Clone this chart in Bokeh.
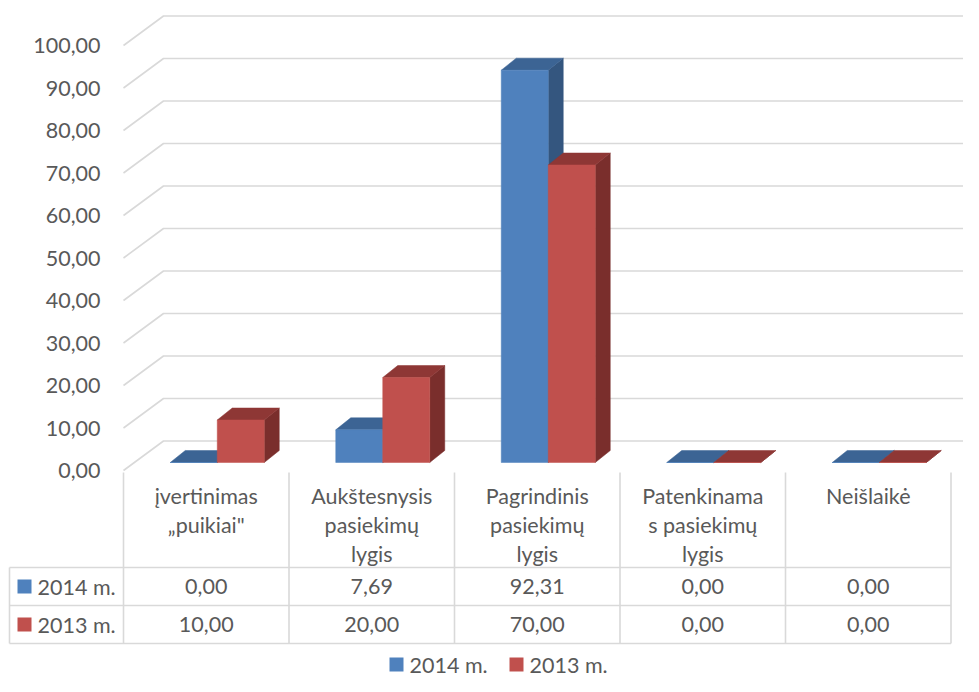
from bokeh.plotting import figure
from bokeh.models import Range1d
from bokeh.embed import file_html
from bokeh.resources import INLINE
from bokeh.core.properties import value

# ---------------- data ----------------
categories = [
    "įvertinimas\n„puikiai\"",
    "Aukštesnysis\npasiekimų\nlygis",
    "Pagrindinis\npasiekimų\nlygis",
    "Patenkinama\ns pasiekimų\nlygis",
    "Neišlaikė",
]
series_names = ["2014 m.", "2013 m."]
values_2014 = [0.00, 7.69, 92.31, 0.00, 0.00]
values_2013 = [10.00, 20.00, 70.00, 0.00, 0.00]
y_ticks = [0, 10, 20, 30, 40, 50, 60, 70, 80, 90, 100]

# ---------------- style / layout ----------------
FRONT = ["#4F81BD", "#C0504D"]
TOP = ["#3C6494", "#8E3735"]
SIDE = ["#34567F", "#7A2E2C"]
GRID = "#D9D9D9"
TXT = "#595959"
FONT = "Lato"
FS = "21.5px"

W, H = 963, 676
OX, OY = 0, 0              # pixel offset of the canvas
PX = 165.5                 # pixels per category
PY = 4.25                  # pixels per value unit
X0, Y0 = 123.0, 470.0      # pixel of (0, 0)


def dx(X):  # pixel X -> data x
    return (X - X0) / PX


def dy(Y):  # pixel Y -> data y
    return (Y0 - Y) / PY


p = figure(width=W, height=H, output_backend="svg", toolbar_location=None,
           x_range=Range1d(dx(OX), dx(OX + W)), y_range=Range1d(dy(OY + H), dy(OY)),
           min_border=0, min_border_left=0, min_border_right=0,
           min_border_top=0, min_border_bottom=0)
p.axis.visible = False
p.grid.visible = False
p.outline_line_color = None
p.background_fill_color = "white"
p.border_fill_color = "white"

# ---------- wall gridlines (3D) ----------
DXW = 40 / PX
DYW = 29.5 / PY
x_end = dx(OX + W) + 0.1
p.multi_line(xs=[[0, DXW, x_end] for _ in y_ticks],
             ys=[[t, t + DYW, t + DYW] for t in y_ticks],
             line_color=GRID, line_width=1.6)

# y tick labels
p.text(x=[dx(100)] * len(y_ticks), y=y_ticks,
       text=[f"{t:.2f}".replace(".", ",") for t in y_ticks],
       text_align="right", text_baseline="middle", text_color=TXT,
       text_font=value(FONT), text_font_size=FS)

# ---------- 3D bars ----------
bw = 47 / PX
fx0 = 11 / PX
fy0 = 8 / PY
ddx = 15 / PX
ddy = 12 / PY

for s, vals in enumerate([values_2014, values_2013]):
    fxs, fys, txs, tys, sxs, sys_ = [], [], [], [], [], []
    for i, v in enumerate(vals):
        xl = i + 0.5 - bw + fx0 + s * bw
        xr = xl + bw
        b = fy0
        t = fy0 + v
        fxs.append([xl, xr, xr, xl]); fys.append([b, b, t, t])
        txs.append([xl, xr, xr + ddx, xl + ddx]); tys.append([t, t, t + ddy, t + ddy])
        sxs.append([xr, xr + ddx, xr + ddx, xr]); sys_.append([b, b + ddy, t + ddy, t])
    p.patches(sxs, sys_, fill_color=SIDE[s], line_color=SIDE[s], line_width=0.5)
    p.patches(txs, tys, fill_color=TOP[s], line_color=TOP[s], line_width=0.5)
    p.patches(fxs, fys, fill_color=FRONT[s], line_color=FRONT[s], line_width=0.5)

# ---------- data table ----------
n = len(categories)
row_lines_Y = [567, 605, 643]
p.segment(x0=[dx(9)] * 3, y0=[dy(Y) for Y in row_lines_Y],
          x1=[n] * 3, y1=[dy(Y) for Y in row_lines_Y],
          line_color=GRID, line_width=1.6)
p.segment(x0=list(range(n + 1)), y0=[dy(472)] * (n + 1),
          x1=list(range(n + 1)), y1=[dy(643)] * (n + 1),
          line_color=GRID, line_width=1.6)
p.segment(x0=[dx(9)], y0=[dy(567)], x1=[dx(9)], y1=[dy(643)],
          line_color=GRID, line_width=1.6)

# category headers
hx, hy, ht = [], [], []
line_Y = [495, 524, 553]
for i, c in enumerate(categories):
    for k, ln in enumerate(c.split("\n")):
        hx.append(i + 0.5); hy.append(dy(line_Y[k])); ht.append(ln)
p.text(x=hx, y=hy, text=ht, text_align="center", text_baseline="middle",
       text_color=TXT, text_font=value(FONT), text_font_size=FS)

# value rows
row_Y = [586, 624]
for s, vals in enumerate([values_2014, values_2013]):
    p.text(x=[i + 0.5 for i in range(n)], y=[dy(row_Y[s])] * n,
           text=[f"{v:.2f}".replace(".", ",") for v in vals],
           text_align="center", text_baseline="middle",
           text_color=TXT, text_font=value(FONT), text_font_size=FS)
    # legend key in table
    p.rect(x=[dx(24)], y=[dy(row_Y[s])], width=14 / PX, height=14 / PY,
           fill_color=FRONT[s], line_color=None)
    p.text(x=[dx(37)], y=[dy(row_Y[s])], text=[series_names[s]],
           text_align="left", text_baseline="middle",
           text_color=TXT, text_font=value(FONT), text_font_size=FS)

# ---------- bottom legend ----------
leg_Y = 664
leg_sq_X = [396, 516]
leg_tx_X = [409, 529]
for s in range(2):
    p.rect(x=[dx(leg_sq_X[s])], y=[dy(leg_Y)], width=14 / PX, height=14 / PY,
           fill_color=FRONT[s], line_color=None)
    p.text(x=[dx(leg_tx_X[s])], y=[dy(leg_Y)], text=[series_names[s]],
           text_align="left", text_baseline="middle",
           text_color=TXT, text_font=value(FONT), text_font_size=FS)

open("out.html", "w").write(file_html(p, INLINE))
